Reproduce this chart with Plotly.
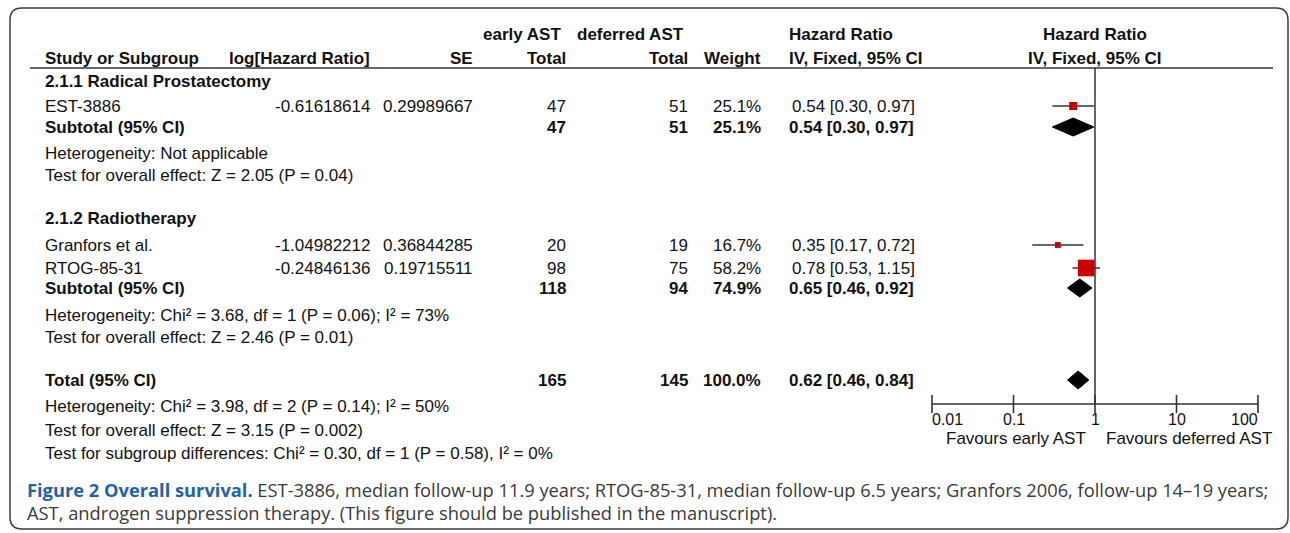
import math
import plotly.graph_objects as go

# ---------------- data ----------------
studies = ["EST-3886", "Granfors et al.", "RTOG-85-31"]
log_hr = ["-0.61618614", "-1.04982212", "-0.24846136"]
se = ["0.29989667", "0.36844285", "0.19715511"]
early_n = [47, 20, 98]
deferred_n = [51, 19, 75]
weights = [25.1, 16.7, 58.2]
hr = [0.54, 0.35, 0.78]
ci_lo = [0.30, 0.17, 0.53]
ci_hi = [0.97, 0.72, 1.15]

subgroups = ["2.1.1 Radical Prostatectomy", "2.1.2 Radiotherapy"]
sub_early = [47, 118]
sub_deferred = [51, 94]
sub_weight = [25.1, 74.9]
sub_hr = [0.54, 0.65]
sub_lo = [0.30, 0.46]
sub_hi = [0.97, 0.92]
sub_het = ["Heterogeneity: Not applicable",
           "Heterogeneity: Chi² = 3.68, df = 1 (P = 0.06); I² = 73%"]
sub_test = ["Test for overall effect: Z = 2.05 (P = 0.04)",
            "Test for overall effect: Z = 2.46 (P = 0.01)"]

total_early = 165
total_deferred = 145
total_weight = 100.0
total_hr = 0.62
total_lo = 0.46
total_hi = 0.84
total_het = "Heterogeneity: Chi² = 3.98, df = 2 (P = 0.14); I² = 50%"
total_test = "Test for overall effect: Z = 3.15 (P = 0.002)"
subgroup_test = "Test for subgroup differences: Chi² = 0.30, df = 1 (P = 0.58), I² = 0%"

axis_ticks = [0.01, 0.1, 1, 10, 100]
axis_labels = ["0.01", "0.1", "1", "10", "100"]
favours_left = "Favours early AST"
favours_right = "Favours deferred AST"

caption_bold = "Figure 2 Overall survival."
caption_line1 = (" EST-3886, median follow-up 11.9 years; RTOG-85-31, median follow-up 6.5 years; "
                 "Granfors 2006, follow-up 14–19 years;")
caption_line2 = "AST, androgen suppression therapy. (This figure should be published in the manuscript)."

# ---------------- layout constants (pixels) ----------------
W, H = 1290, 533
X_STUDY = 43
X_LOGHR_R = 372
X_SE_R = 475
X_EARLY_R = 568
X_DEF_R = 690
X_WEIGHT_R = 763
X_CI_L = 787
FOREST_L, FOREST_R = 932, 1258

Y_H1, Y_H2, Y_LINE = 34, 58, 68
Y_G = [81, 218]
Y_STUDY = [106, 245, 268]
Y_SUB = [127, 288]
Y_HET = [153, 315]
Y_TEST = [175, 337]
Y_TOTAL, Y_THET, Y_TTEST, Y_SGTEST = 380, 406, 430, 453
Y_AXIS = 404
Y_CAP1, Y_CAP2 = 489, 512

TXT = "#111111"
FONT = "Arial, Liberation Sans, sans-serif"
FS = 17
DIAMOND_H = 9

annotations = []


def txt(x, y, s, anchor="left", bold=False, size=FS, color=TXT, xref="x2", family=FONT):
    annotations.append(dict(
        x=x, y=y, xref=xref, yref="y", text=s, showarrow=False,
        xanchor=anchor, yanchor="middle",
        font=dict(family=family, size=size, color=color, weight="bold" if bold else "normal"),
    ))


def ci_text(h, lo, hi):
    return f"{h:.2f} [{lo:.2f}, {hi:.2f}]"


# headers
txt(522, Y_H1, "early AST", "center", True)
txt(630, Y_H1, "deferred AST", "center", True)
txt(X_CI_L, Y_H1, "Hazard Ratio", "left", True)
txt(0, Y_H1, "Hazard Ratio", "center", True, xref="x")
txt(X_STUDY, Y_H2, "Study or Subgroup", "left", True)
txt(X_LOGHR_R, Y_H2, "log[Hazard Ratio]", "right", True)
txt(X_SE_R, Y_H2, "SE", "right", True)
txt(X_EARLY_R, Y_H2, "Total", "right", True)
txt(X_DEF_R, Y_H2, "Total", "right", True)
txt(X_WEIGHT_R, Y_H2, "Weight", "right", True)
txt(X_CI_L, Y_H2, "IV, Fixed, 95% CI", "left", True)
txt(0, Y_H2, "IV, Fixed, 95% CI", "center", True, xref="x")

# study rows
for i, s in enumerate(studies):
    y = Y_STUDY[i]
    txt(X_STUDY, y, s)
    txt(X_LOGHR_R, y, log_hr[i], "right")
    txt(X_SE_R, y, se[i], "right")
    txt(X_EARLY_R, y, str(early_n[i]), "right")
    txt(X_DEF_R, y, str(deferred_n[i]), "right")
    txt(X_WEIGHT_R, y, f"{weights[i]:.1f}%", "right")
    txt(X_CI_L + 3, y, ci_text(hr[i], ci_lo[i], ci_hi[i]))

# subgroup rows
for g, name in enumerate(subgroups):
    txt(X_STUDY, Y_G[g], name, bold=True)
    y = Y_SUB[g]
    txt(X_STUDY, y, "Subtotal (95% CI)", bold=True)
    txt(X_EARLY_R, y, str(sub_early[g]), "right", True)
    txt(X_DEF_R, y, str(sub_deferred[g]), "right", True)
    txt(X_WEIGHT_R, y, f"{sub_weight[g]:.1f}%", "right", True)
    txt(X_CI_L, y, ci_text(sub_hr[g], sub_lo[g], sub_hi[g]), bold=True)
    txt(X_STUDY, Y_HET[g], sub_het[g])
    txt(X_STUDY, Y_TEST[g], sub_test[g])

# total rows
txt(X_STUDY, Y_TOTAL, "Total (95% CI)", bold=True)
txt(X_EARLY_R, Y_TOTAL, str(total_early), "right", True)
txt(X_DEF_R, Y_TOTAL, str(total_deferred), "right", True)
txt(X_WEIGHT_R, Y_TOTAL, f"{total_weight:.1f}%", "right", True)
txt(X_CI_L, Y_TOTAL, ci_text(total_hr, total_lo, total_hi), bold=True)
txt(X_STUDY, Y_THET, total_het)
txt(X_STUDY, Y_TTEST, total_test)
txt(X_STUDY, Y_SGTEST, subgroup_test)

# axis tick labels and favours labels
for i, (t, lab) in enumerate(zip(axis_ticks, axis_labels)):
    anchor = "left" if i == 0 else ("right" if i == len(axis_ticks) - 1 else "center")
    txt(math.log10(t), Y_AXIS + 15, lab, anchor, size=16, xref="x")
annotations[-1]["xshift"] = 2
annotations[-len(axis_ticks)]["xshift"] = -2
txt(0, Y_AXIS + 34, favours_left, "right", size=17, xref="x")
annotations[-1]["xshift"] = -7
txt(0, Y_AXIS + 34, favours_right, "left", size=17, xref="x")
annotations[-1]["xshift"] = 9

# caption
CAP_FONT = "Open Sans, sans-serif"
txt(25, Y_CAP1,
    f"<b><span style='color:#1f63a6'>{caption_bold}</span></b>{caption_line1}",
    size=18.3, color="#3a3a3a", family=CAP_FONT)
txt(25, Y_CAP2, caption_line2, size=18.3, color="#3a3a3a", family=CAP_FONT)

# ---------------- forest traces ----------------
fig = go.Figure()
LINE_C = "#333333"

# vertical line of no effect
fig.add_trace(go.Scatter(x=[1, 1], y=[Y_LINE, Y_AXIS], mode="lines",
                         line=dict(color=LINE_C, width=1.5), xaxis="x", yaxis="y",
                         hoverinfo="skip"))
# axis line
fig.add_trace(go.Scatter(x=[axis_ticks[0], axis_ticks[-1]], y=[Y_AXIS, Y_AXIS], mode="lines",
                         line=dict(color=LINE_C, width=1.5), xaxis="x", yaxis="y",
                         hoverinfo="skip", cliponaxis=False))
# ticks
fig.add_trace(go.Scatter(x=axis_ticks, y=[Y_AXIS] * len(axis_ticks), mode="markers",
                         marker=dict(symbol="line-ns", size=13,
                                     line=dict(color=LINE_C, width=1.6)),
                         xaxis="x", yaxis="y", hoverinfo="skip", cliponaxis=False))

# study CIs and squares
for i in range(len(studies)):
    fig.add_trace(go.Scatter(x=[ci_lo[i], ci_hi[i]], y=[Y_STUDY[i]] * 2, mode="lines",
                             line=dict(color=LINE_C, width=1.5), xaxis="x", yaxis="y",
                             hoverinfo="skip"))
fig.add_trace(go.Scatter(x=hr, y=Y_STUDY, mode="markers",
                         marker=dict(symbol="square", color="#c80000", opacity=1,
                                     size=[0.26 * w + 1.5 for w in weights],
                                     line=dict(width=0)),
                         opacity=1, xaxis="x", yaxis="y", hoverinfo="skip"))

# diamonds
for h, lo, hi, y in list(zip(sub_hr, sub_lo, sub_hi, Y_SUB)) + [(total_hr, total_lo, total_hi, Y_TOTAL)]:
    fig.add_trace(go.Scatter(x=[lo, h, hi, h, lo], y=[y, y - DIAMOND_H, y, y + DIAMOND_H, y],
                             mode="lines", fill="toself", fillcolor="#000000",
                             line=dict(color="#000000", width=1), xaxis="x", yaxis="y",
                             hoverinfo="skip"))

# ---------------- shapes ----------------
shapes = [
    dict(type="line", xref="x2", yref="y", x0=30, x1=1273, y0=Y_LINE, y1=Y_LINE,
         line=dict(color=LINE_C, width=1.6)),
    dict(type="path", xref="x2", yref="y",
         path="M 22,8 L 1276,8 Q 1288,8 1288,20 L 1288,517 Q 1288,529 1276,529 "
              "L 22,529 Q 10,529 10,517 L 10,20 Q 10,8 22,8 Z",
         line=dict(color="#3c3c3c", width=1.5), fillcolor="rgba(0,0,0,0)"),
]

fig.update_layout(
    width=W, height=H,
    margin=dict(l=0, r=0, t=0, b=0),
    paper_bgcolor="white", plot_bgcolor="rgba(0,0,0,0)",
    showlegend=False,
    xaxis=dict(type="log", range=[math.log10(axis_ticks[0]), math.log10(axis_ticks[-1])],
               domain=[FOREST_L / W, FOREST_R / W], visible=False, anchor="y"),
    xaxis2=dict(range=[0, W], domain=[0, 1], visible=False, anchor="y"),
    yaxis=dict(range=[H, 0], domain=[0, 1], visible=False),
    annotations=annotations,
    shapes=shapes,
)

fig.write_html("out.html", config={"displayModeBar": False},
               post_script="document.body.style.margin='0px';document.body.style.overflow='hidden';")
